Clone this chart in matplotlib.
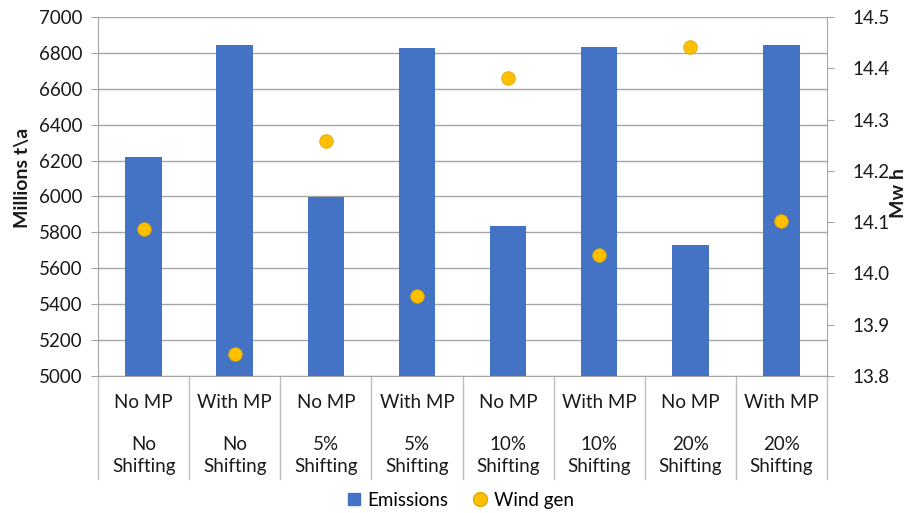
import matplotlib
matplotlib.use("Agg")
import matplotlib.pyplot as plt
from matplotlib.lines import Line2D
import matplotlib.transforms as mtransforms

plt.rcParams['font.family'] = ['Lato', 'DejaVu Sans']

mp_labels = ["No MP", "With MP", "No MP", "With MP", "No MP", "With MP", "No MP", "With MP"]
shift_labels = ["No\nShifting", "No\nShifting", "5%\nShifting", "5%\nShifting",
                "10%\nShifting", "10%\nShifting", "20%\nShifting", "20%\nShifting"]
emissions = [6222, 6842, 5996, 6826, 5836, 6833, 5728, 6844]
wind_gen = [14.087, 13.843, 14.259, 13.956, 14.381, 14.035, 14.441, 14.103]

BLUE = "#4472C4"
ORANGE = "#FFC000"
GRID = "#A6A6A6"
TXT = "#1a1a1a"
FS = 13.5

fig = plt.figure(figsize=(9.06, 5.13), dpi=100)
ax = fig.add_axes([0.1082, 0.2671, 0.8046, 0.6998])
n = len(emissions)
x = list(range(n))

ax.bar(x, emissions, width=0.4, color=BLUE, zorder=3)
ax.set_xlim(-0.5, n - 0.5)
ax.set_ylim(5000, 7000)
ax.set_yticks(range(5000, 7001, 200))
ax.grid(axis='y', color=GRID, linewidth=1.0, zorder=0)
ax.set_axisbelow(True)
ax.tick_params(axis='y', length=5, color=GRID, labelsize=FS, labelcolor=TXT, pad=6)
ax.tick_params(axis='x', length=0, labelbottom=False)
for s in ['top', 'right']:
    ax.spines[s].set_visible(False)
ax.spines['left'].set_color(GRID)
ax.spines['bottom'].set_color(GRID)
ax.set_ylabel("Millions t\\a", fontsize=14, fontweight='bold', color=TXT)
ax.yaxis.set_label_coords(-0.103, 0.552)
ax.yaxis.label.set_verticalalignment('center')

ax2 = ax.twinx()
ax2.scatter(x, wind_gen, s=95, color=ORANGE, edgecolors="#E0A800", linewidths=0.6, zorder=4)
ax2.set_ylim(13.8, 14.5)
ax2.set_yticks([13.8, 13.9, 14.0, 14.1, 14.2, 14.3, 14.4, 14.5])
ax2.set_yticklabels([f"{v:.1f}" for v in [13.8, 13.9, 14.0, 14.1, 14.2, 14.3, 14.4, 14.5]])
ax2.tick_params(axis='y', length=5, color=GRID, labelsize=FS, labelcolor=TXT, pad=13)
for s in ['top', 'left', 'bottom']:
    ax2.spines[s].set_visible(False)
ax2.spines['right'].set_color(GRID)
ax2.set_ylabel("Mw h", fontsize=14, fontweight='bold', color=TXT)
ax2.yaxis.set_label_coords(1.098, 0.51)
ax2.yaxis.label.set_verticalalignment('center')

# category table beneath the axis
trans = mtransforms.blended_transform_factory(ax.transData, ax.transAxes)
for i in range(n + 1):
    ax.add_line(Line2D([i - 0.5, i - 0.5], [0, -0.287], transform=trans,
                       color="#BFBFBF", linewidth=1.0, clip_on=False))
for i in range(n):
    ax.text(i, -0.075, mp_labels[i], transform=trans, ha='center', va='center',
            fontsize=FS, color=TXT)
    ax.text(i, -0.221, shift_labels[i], transform=trans, ha='center', va='center',
            fontsize=FS, color=TXT, linespacing=1.4)

handles = [Line2D([], [], marker='s', linestyle='none', color=BLUE, markersize=9),
           Line2D([], [], marker='o', linestyle='none', color=ORANGE,
                  markeredgecolor="#E0A800", markersize=10)]
fig.legend(handles, ["Emissions", "Wind gen"], loc='center',
           bbox_to_anchor=(0.507, 0.025), ncol=2, frameon=False, fontsize=FS,
           handletextpad=0.2, columnspacing=1.2, handlelength=1.0)

fig.savefig("out.png", dpi=100, facecolor='white')
